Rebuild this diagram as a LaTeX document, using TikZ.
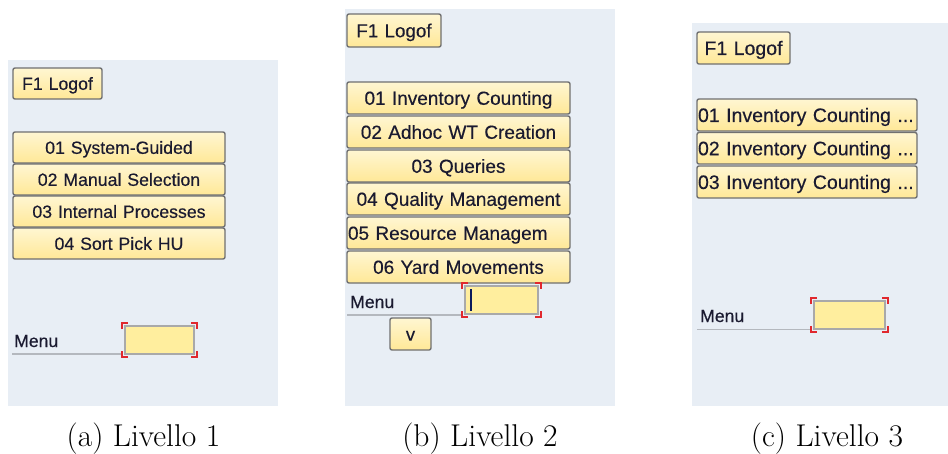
\documentclass[tikz,border=0pt]{standalone}
\usepackage{fontspec}
\newfontfamily\guifont[FakeBold=0.35]{Liberation Sans}

\definecolor{panelbg}{HTML}{E8EEF5}
\definecolor{btntop}{HTML}{FFF6D2}
\definecolor{btnbot}{HTML}{FFE897}
\definecolor{btnedge}{HTML}{707070}
\definecolor{guitext}{HTML}{1A1A30}
\definecolor{fieldfill}{HTML}{FFEE9E}
\definecolor{fieldedge}{HTML}{A9A9A9}
\definecolor{focusred}{HTML}{E0282E}
\definecolor{menurulecol}{HTML}{B4B8BE}
\definecolor{cursorblue}{HTML}{0B1A5C}

\tikzset{
  panel/.style={fill=panelbg},
  sapbutton/.style={draw=btnedge, line width=1.4pt, rounded corners=2pt,
    top color=btntop, bottom color=btnbot, inner xsep=1pt, inner ysep=0pt,
    text=guitext, text depth=0pt},
  field/.style={draw=fieldedge, line width=1.3pt, fill=fieldfill, inner sep=0pt},
  focus/.style={draw=focusred, line width=1.4pt},
  menulabel/.style={font=\guifont\fontsize{17.6}{18}\selectfont, text=guitext,
    inner sep=0pt, anchor=base west},
  menurule/.style={draw=menurulecol, line width=1.3pt},
  caption/.style={font=\fontsize{31.5}{36}\selectfont, inner sep=0pt, anchor=base},
}

% push button: name, x1, y1, x2, y2, font size, alignment, label
\newcommand{\sapbtn}[8]{%
  \pgfmathsetmacro\btnw{#4-#2-2}%
  \pgfmathsetmacro\btnh{#5-#3}%
  \pgfmathsetmacro\btncap{0.716*#6}%
  \node[sapbutton, text width=\btnw pt, minimum height=\btnh pt, align=#7,
        text height=\btncap pt, font=\guifont\fontsize{#6}{#6}\selectfont]
        (#1) at ({(#2+#4)/2},{(#3+#5)/2}) {#8};}

% input field: name, x1, y1, x2, y2 (focus corners drawn 3px outside)
\newcommand{\sapfield}[5]{%
  \pgfmathsetmacro\fldw{#4-#2}%
  \pgfmathsetmacro\fldh{#5-#3}%
  \node[field, minimum width=\fldw pt, minimum height=\fldh pt]
        (#1) at ({(#2+#4)/2},{(#3+#5)/2}) {};
  \draw[focus] ({#2-3},{#3+3}) -- ({#2-3},{#3-3}) -- ({#2+3},{#3-3});
  \draw[focus] ({#4-3},{#3-3}) -- ({#4+3},{#3-3}) -- ({#4+3},{#3+3});
  \draw[focus] ({#2-3},{#5-3}) -- ({#2-3},{#5+3}) -- ({#2+3},{#5+3});
  \draw[focus] ({#4-3},{#5+3}) -- ({#4+3},{#5+3}) -- ({#4+3},{#5-3});}

\begin{document}
\begin{tikzpicture}[x=1pt, y=-1pt]
  \useasboundingbox (0,0) rectangle (948,453);

  % ---------- level 1 ----------
  \fill[panel] (8,60) rectangle (278,406);
  \sapbtn{logofA}{13}{68}{102}{99}{17.7}{center}{F1 Logof}
  \sapbtn{a1}{13}{132}{225}{163}{17.7}{center}{01 System-Guided}
  \sapbtn{a2}{13}{164}{225}{195}{17.7}{center}{02 Manual Selection}
  \sapbtn{a3}{13}{196}{225}{227}{17.7}{center}{03 Internal Processes}
  \sapbtn{a4}{13}{228}{225}{259}{17.7}{center}{04 Sort Pick HU}
  \node[menulabel] (menuA) at (14,347) {Menu};
  \coordinate (ruleA) at (12,354);
  \draw[menurule] (ruleA) -- ++(110,0);
  \sapfield{inA}{125}{326}{194}{354}
  \node[caption] (capA) at (143.5,446) {(a) Livello 1};

  % ---------- level 2 ----------
  \fill[panel] (345,9) rectangle (615,406);
  \sapbtn{logofB}{347}{14}{441}{47}{18.8}{center}{F1 Logof}
  \sapbtn{b1}{347}{82}{570}{114}{19}{center}{01 Inventory Counting}
  \sapbtn{b2}{347}{116}{570}{148}{19}{center}{02 Adhoc WT Creation}
  \sapbtn{b3}{347}{150}{570}{182}{19}{center}{03 Queries}
  \sapbtn{b4}{347}{183}{570}{215}{19}{center}{04 Quality Management}
  \sapbtn{b5}{347}{217}{570}{249}{19}{left}{05 Resource Managem}
  \sapbtn{b6}{347}{251}{570}{283}{19}{center}{06 Yard Movements}
  \node[menulabel] (menuB) at (350,308) {Menu};
  \coordinate (ruleB) at (347,315);
  \draw[menurule] (ruleB) -- ++(115,0);
  \sapfield{inB}{465}{286}{538}{314}
  \draw[cursorblue, line width=2.2pt] (471,289) -- (471,311);
  \sapbtn{down}{390}{318}{431}{350}{18.5}{center}{v}
  \node[caption] (capB) at (480,446) {(b) Livello 2};

  % ---------- level 3 ----------
  \fill[panel] (692,23) rectangle (948,406);
  \sapbtn{logofC}{697}{32}{790}{64}{19.5}{center}{F1 Logof}
  \sapbtn{c1}{697}{99}{917}{131}{19.5}{left}{01 Inventory Counting ...}
  \sapbtn{c2}{697}{132.5}{917}{164}{19.5}{left}{02 Inventory Counting ...}
  \sapbtn{c3}{697}{166}{917}{198}{19.5}{left}{03 Inventory Counting ...}
  \node[menulabel] (menuC) at (700,322) {Menu};
  \coordinate (ruleC) at (697,329.5);
  \draw[menurule] (ruleC) -- ++(114,0);
  \sapfield{inC}{814}{301}{885}{329}
  \node[caption] (capC) at (827,446) {(c) Livello 3};
\end{tikzpicture}
\end{document}
